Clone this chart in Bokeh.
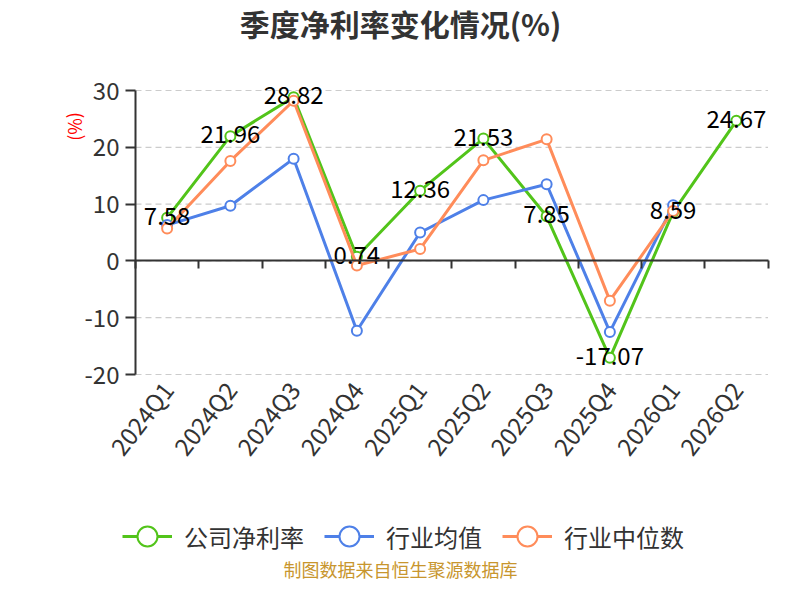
from bokeh.plotting import figure
from bokeh.models import (ColumnDataSource, Range1d, FixedTicker, Legend, LegendItem,
                          Label, LinearAxis)
from bokeh.core.properties import value
from bokeh.embed import file_html
from bokeh.resources import INLINE

# ---- data ----
quarters = ["2024Q1", "2024Q2", "2024Q3", "2024Q4", "2025Q1",
            "2025Q2", "2025Q3", "2025Q4", "2026Q1", "2026Q2"]
company = [7.58, 21.96, 28.82, 0.74, 12.36, 21.53, 7.85, -17.07, 8.59, 24.67]
industry_avg = [6.3, 9.7, 18.0, -12.3, 5.0, 10.7, 13.5, -12.5, 9.8]
industry_median = [5.7, 17.6, 28.2, -0.8, 2.1, 17.7, 21.4, -7.0, 8.8]
y_ticks = [-20, -10, 0, 10, 20, 30]
series_names = ["公司净利率", "行业均值", "行业中位数"]
title_text = "季度净利率变化情况(%)"
unit_text = "(%)"
footer_text = "制图数据来自恒生聚源数据库"

FONT = "Noto Sans CJK SC"
colors = ["#52c41a", "#4e80e8", "#ff8c5a"]

# ---- layout (pixels) ----
W, H = 784, 584
PL, PR, PT, PB = 135.0, 767.5, 90.0, 374.0   # plot area edges

n = len(quarters)
centers = [i + 0.5 for i in range(n)]
ymin, ymax = min(y_ticks), max(y_ticks)

xs = (PR - PL) / n
ys = (PB - PT) / (ymax - ymin)
x_range = Range1d(-PL / xs, n + (W - PR) / xs)
y_range = Range1d(ymin - (H - PB) / ys, ymax + PT / ys)

p = figure(width=W, height=H, output_backend="svg", toolbar_location=None,
           x_range=x_range, y_range=y_range, x_axis_location=None,
           y_axis_location=None, min_border=0)
p.min_border_left = p.min_border_right = p.min_border_top = p.min_border_bottom = 0
p.outline_line_color = None
p.background_fill_color = "white"
p.border_fill_color = "white"
p.grid.visible = False

# dashed horizontal grid lines across the plot area
p.segment(x0=[0] * len(y_ticks), x1=[n] * len(y_ticks), y0=y_ticks, y1=y_ticks,
          line_color="#cccccc", line_dash="6 4", line_width=1.2)

# y axis
ya = LinearAxis(fixed_location=0, bounds=(ymin, ymax), ticker=FixedTicker(ticks=y_ticks))
ya.major_label_overrides = {t: str(t) for t in y_ticks}
ya.major_label_text_font = FONT
ya.major_label_text_font_size = "24px"
ya.major_label_text_color = "#333333"
ya.axis_line_color = "#333333"
ya.axis_line_width = 2
ya.major_tick_line_color = "#333333"
ya.major_tick_line_width = 2
ya.major_tick_out = 10
ya.major_tick_in = 0
ya.minor_tick_line_color = None
ya.major_label_standoff = 6
p.add_layout(ya, "left")

# bottom labels axis (under the plot area)
xa = LinearAxis(fixed_location=ymin, ticker=FixedTicker(ticks=centers))
xa.major_label_overrides = {c: q for c, q in zip(centers, quarters)}
xa.major_label_orientation = 0.91
xa.major_label_text_font = FONT
xa.major_label_text_font_size = "24px"
xa.major_label_text_color = "#333333"
xa.axis_line_color = None
xa.major_tick_line_color = None
xa.minor_tick_line_color = None
xa.major_label_standoff = 4
p.add_layout(xa, "below")

# zero axis with boundary ticks
za = LinearAxis(fixed_location=0, bounds=(0, n), ticker=FixedTicker(ticks=list(range(n + 1))))
za.major_label_text_font_size = "0px"
za.major_label_text_color = None
za.axis_line_color = "#333333"
za.axis_line_width = 2
za.major_tick_line_color = "#333333"
za.major_tick_line_width = 2
za.major_tick_out = 8
za.major_tick_in = 0
za.minor_tick_line_color = None
p.add_layout(za, "below")

series = [company, industry_avg, industry_median]
items = []
for name, vals, col in zip(series_names, series, colors):
    src = ColumnDataSource(dict(x=centers[:len(vals)], y=vals))
    ln = p.line("x", "y", source=src, line_color=col, line_width=3)
    sc = p.scatter("x", "y", source=src, size=10, marker="circle",
                   fill_color="white", line_color=col, line_width=2)
    items.append(LegendItem(label=name, renderers=[ln, sc]))

# data labels for company
lab_src = ColumnDataSource(dict(x=centers[:len(company)], y=company,
                                t=[f"{v:.2f}" for v in company]))
p.text("x", "y", text="t", source=lab_src, text_align="center",
       text_baseline="middle", text_font=value(FONT), text_font_size="24px",
       text_color="#000000", y_offset=-2)

legend = Legend(items=items, orientation="horizontal", location=(122, 23),
                glyph_width=50, glyph_height=50, label_standoff=12, spacing=20,
                padding=0, margin=0, border_line_color=None,
                background_fill_alpha=0, label_text_font=FONT,
                label_text_font_size="24px", label_text_color="#333333")
p.add_layout(legend, "center")

p.add_layout(Label(x=400, y=H - 22, x_units="screen", y_units="screen", text=title_text,
                   text_align="center", text_baseline="middle", text_font=FONT,
                   text_font_size="30px", text_font_style="bold",
                   text_color="#333333"))
p.add_layout(Label(x=73, y=H - 126, x_units="screen", y_units="screen", text=unit_text,
                   angle=1.5708, text_align="center", text_baseline="middle",
                   text_font=FONT, text_font_size="18px", text_color="red"))
p.add_layout(Label(x=400, y=16, x_units="screen", y_units="screen", text=footer_text,
                   text_align="center", text_baseline="middle", text_font=FONT,
                   text_font_size="18px", text_color="#c8962e"))

open("out.html", "w").write(file_html(p, INLINE))
